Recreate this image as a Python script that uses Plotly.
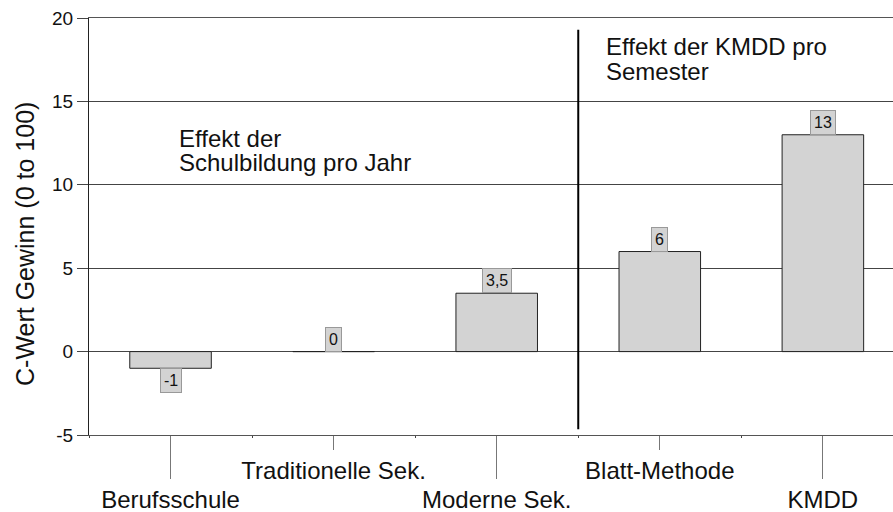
import plotly.graph_objects as go

categories = ["Berufsschule", "Traditionelle Sek.", "Moderne Sek.", "Blatt-Methode", "KMDD"]
values = [-1, 0, 3.5, 6, 13]
value_labels = ["-1", "0", "3,5", "6", "13"]
y_ticks = [-5, 0, 5, 10, 15, 20]
y_ticktext = ["-5", "0", "5", "10", "15", "20"]
note_left = ["Effekt der", "Schulbildung pro Jahr"]
note_right = ["Effekt der KMDD pro", "Semester"]
y_title = "C-Wert Gewinn (0 to 100)"

FONT = "Liberation Sans, Arial, sans-serif"
TXT = "#111111"
xpos = list(range(len(categories)))

W, H = 893, 512
ML, MT, MB = 89, 18, 77
PLOT_H = H - MT - MB  # 417
PLOT_W = W - ML       # 804


def py(pix):
    """window pixel row -> paper y"""
    return (435 - pix) / PLOT_H


fig = go.Figure()
fig.add_trace(go.Bar(
    x=xpos, y=values, width=0.5,
    marker=dict(color="#d3d3d3", line=dict(color="#222222", width=1)),
    showlegend=False, hoverinfo="skip",
))
# invisible trace to activate xaxis2 (short ticks)
fig.add_trace(go.Scatter(x=[xpos[1], xpos[3]], y=[None, None], xaxis="x2", showlegend=False,
                         mode="markers", hoverinfo="skip"))

for xi, v, lab in zip(xpos, values, value_labels):
    fig.add_annotation(
        x=xi, y=v, text=lab, showarrow=False,
        yanchor="top" if v < 0 else "bottom",
        bgcolor="#d3d3d3", bordercolor="#999999", borderwidth=1, borderpad=3,
        font=dict(family=FONT, size=16, color=TXT),
    )

# multi-line notes placed line by line (tight line spacing as in the original)
for i, line in enumerate(note_left):
    fig.add_annotation(x=0.04, xref="x", y=py(123 + 24 * i), yref="paper", xanchor="left", yanchor="top",
                       showarrow=False, text=line, font=dict(family=FONT, size=24, color=TXT))
for i, line in enumerate(note_right):
    fig.add_annotation(x=2.66, xref="x", y=py(31 + 25 * i), yref="paper", xanchor="left", yanchor="top",
                       showarrow=False, text=line, font=dict(family=FONT, size=24, color=TXT))

fig.add_shape(type="line", x0=2.5, x1=2.5, y0=-4.65, y1=19.3, xref="x", yref="y",
              line=dict(color="#000000", width=2))

# y-axis title
fig.add_annotation(x=-64 / PLOT_W, xref="paper", y=py(244), yref="paper",
                   xanchor="center", yanchor="middle", textangle=-90, showarrow=False,
                   text=y_title, font=dict(family=FONT, size=25, color=TXT))

xrange = [-0.5, 4.43]
fig.update_layout(
    width=W, height=H,
    margin=dict(l=ML, r=0, t=MT, b=MB, autoexpand=False),
    paper_bgcolor="white", plot_bgcolor="white",
    font=dict(family=FONT, color=TXT),
    xaxis=dict(
        range=xrange, tickvals=[xpos[0], xpos[2], xpos[4]],
        ticktext=[categories[0], categories[2], categories[4]],
        ticks="outside", ticklen=43, tickcolor="#777777", tickwidth=1,
        showline=True, mirror=True, linecolor="#555555", linewidth=1,
        showgrid=False, zeroline=False, automargin=False,
        tickfont=dict(family=FONT, size=24, color=TXT),
        minor=dict(tick0=0.5, dtick=1, ticks="outside", ticklen=2, tickcolor="#444444"),
    ),
    xaxis2=dict(
        range=xrange, overlaying="x", side="bottom", anchor="y",
        tickvals=[xpos[1], xpos[3]], ticktext=[categories[1], categories[3]],
        ticks="outside", ticklen=14, tickcolor="#777777", tickwidth=1,
        showline=False, showgrid=False, zeroline=False, automargin=False,
        tickfont=dict(family=FONT, size=24, color=TXT),
    ),
    yaxis=dict(
        range=[-5, 20], tickvals=y_ticks, ticktext=y_ticktext,
        ticks="outside", ticklen=11, tickcolor="#444444",
        showline=True, linecolor="#222222", linewidth=1,
        showgrid=True, gridcolor="#444444", gridwidth=1,
        zeroline=True, zerolinecolor="#444444", zerolinewidth=1, automargin=False,
        tickfont=dict(family=FONT, size=19, color=TXT),
        ticklabeloverflow="allow",
    ),
)

fig.write_html("out.html", config={"displayModeBar": False},
               post_script="document.body.style.margin='0px';")
